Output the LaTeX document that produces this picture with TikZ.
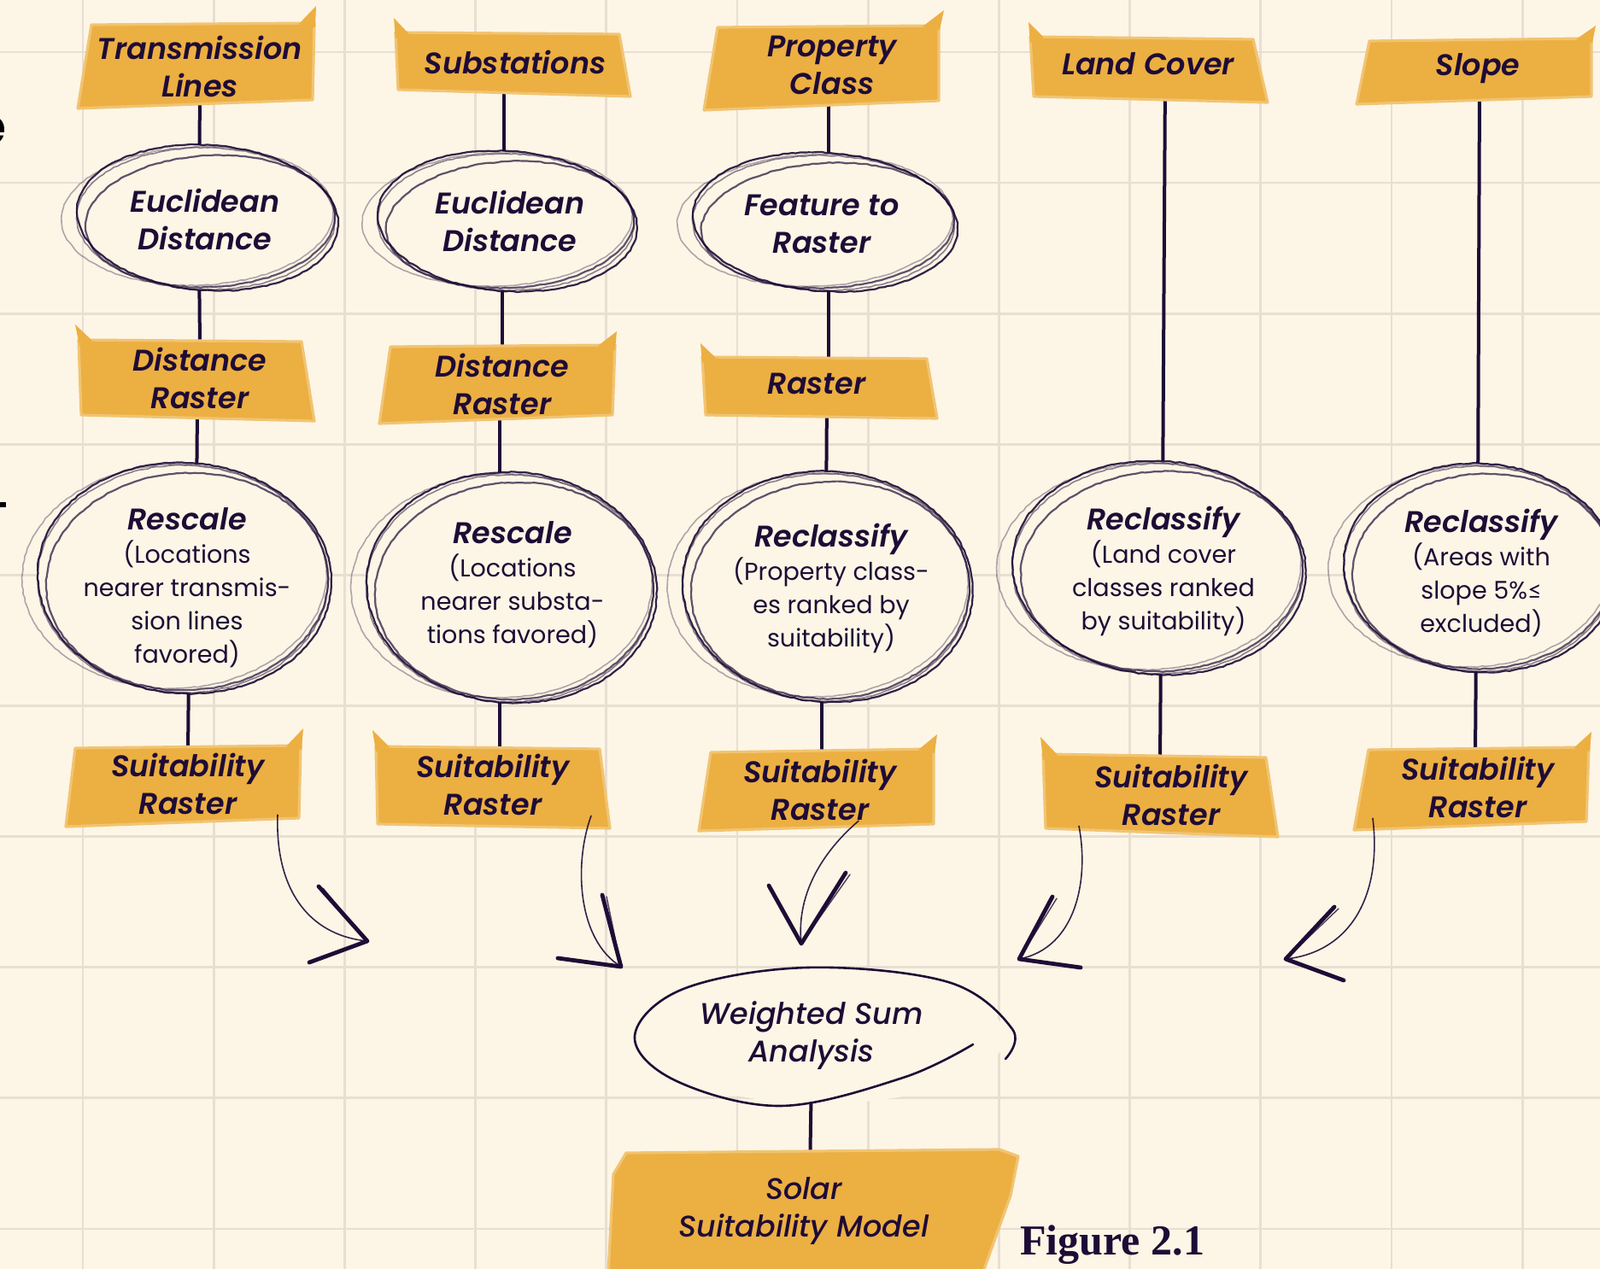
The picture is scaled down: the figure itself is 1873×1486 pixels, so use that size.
\documentclass[tikz,border=0pt]{standalone}
\usepackage{fontspec}
\usetikzlibrary{decorations.pathmorphing}
\newfontfamily\pop{Poppins}[BoldFont={* SemiBold}, BoldItalicFont={* SemiBold Italic}]
\newfontfamily\popmed{Poppins}[UprightFont={* Medium}, ItalicFont={* Medium Italic}]
\newfontfamily\lato{Lato}
\newfontfamily\serifbold{Liberation Serif}
\definecolor{bgcol}{RGB}{253,246,230}
\definecolor{gridcol}{RGB}{232,222,211}
\definecolor{tagcol}{RGB}{236,175,66}
\definecolor{ink}{RGB}{30,12,54}
\pgfdeclarelayer{gridlayer}
\pgfdeclarelayer{connlayer}
\pgfdeclarelayer{shapelayer}
\pgfsetlayers{gridlayer,connlayer,shapelayer,main}
\tikzset{
  tagtext/.style={font=\pop\bfseries\itshape\fontsize{17.5}{22}\selectfont, text=ink, align=center, inner sep=0pt},
  wstext/.style={font=\popmed\itshape\fontsize{17.5}{22}\selectfont, text=ink, align=center, inner sep=0pt},
  proctext/.style={font=\pop\fontsize{14.3}{19.5}\selectfont, text=ink, align=center, inner sep=0pt},
  conn/.style={draw=ink, line width=2pt},
  tagfill/.style={fill=tagcol, draw=tagcol!70!bgcol, line width=1.6pt, line join=round},
  sk/.style={draw=ink, line width=1.1pt, decorate, decoration={random steps, segment length=2.5pt, amplitude=0.3pt}},
  wsline/.style={draw=ink, line width=1.3pt, line cap=round},
  arrowline/.style={draw=ink, line width=0.8pt, line cap=round, opacity=.9},
  headline/.style={draw=ink, line width=2.4pt, line cap=round, line join=round},
  headthin/.style={draw=ink, line width=0.7pt, line cap=round, opacity=.8},
  gridline/.style={draw=gridcol, line width=1.4pt},
  figtext/.style={font=\serifbold\bfseries\fontsize{25}{25}\selectfont, text=ink, inner sep=0pt},
}
\newcommand{\ttl}[1]{{\bfseries\itshape\fontsize{17.5}{19.5}\selectfont #1}}
\newcommand{\sketchell}[4]{%
  \fill[bgcol] (#1,#2) ellipse [x radius=#3, y radius=#4];
  \draw[sk, opacity=.9] (#1,#2) ellipse [x radius=#3, y radius=#4, rotate=-4];
  \draw[sk, opacity=.7] ({#1+3},{#2+4}) ellipse [x radius={#3-7}, y radius={#4-8}, rotate=3];
  \draw[sk, opacity=.5, line width=.8pt] ({#1-2},{#2+1}) ellipse [x radius={#3-2}, y radius={#4-2}, rotate=-1];
  \draw[sk, opacity=.35, line width=.8pt] ({#1-12},{#2-2}) ellipse [x radius={#3+6}, y radius={#4-4}, rotate=2];
}
\newcommand{\ahead}[5]{%
  \draw[headline] (#2,#3) -- (#1) -- (#4,#5);
  \draw[headthin] ({#2+5},{#3+2}) -- (#1);
}
\begin{document}
\begin{tikzpicture}[x=0.5pt, y=-0.5pt]
\useasboundingbox (0,0) rectangle (1873,1486);

% ---------- paper and grid ----------
\begin{pgfonlayer}{gridlayer}
\fill[bgcol] (0,0) rectangle (1873,1486);
\foreach \i in {0,...,11} \draw[gridline] ({97+153.2*\i},0) -- ({97+153.2*\i},1486);
\foreach \j in {0,...,9} \draw[gridline] (0,{61+153.1*\j}) -- (1873,{61+153.1*\j});
\end{pgfonlayer}

% ---------- text nodes ----------
\node[tagtext] (b1) at (234,78) {Transmission\\Lines};
\node[tagtext] (e1) at (240,257) {Euclidean\\Distance};
\node[tagtext] (d1) at (234,443) {Distance\\Raster};
\node[proctext] (r1) at (219,688) {\ttl{Rescale}\\(Locations\\nearer transmis-\\sion lines\\favored)};
\node[tagtext] (s1) at (220,918) {Suitability\\Raster};

\node[tagtext] (b2) at (603,73) {Substations};
\node[tagtext] (e2) at (597,259) {Euclidean\\Distance};
\node[tagtext] (d2) at (588,450) {Distance\\Raster};
\node[proctext] (r2) at (600,685) {\ttl{Rescale}\\(Locations\\nearer substa-\\tions favored)};
\node[tagtext] (s2) at (577,919) {Suitability\\Raster};

\node[tagtext] (b3) at (974,76) {Property\\Class};
\node[tagtext] (e3) at (962,262) {Feature to\\Raster};
\node[tagtext] (ra3) at (956,449) {Raster};
\node[proctext] (r3) at (973,689) {\ttl{Reclassify}\\(Property class-\\es ranked by\\suitability)};
\node[tagtext] (s3) at (960,925) {Suitability\\Raster};

\node[tagtext] (b4) at (1344,75) {Land Cover};
\node[proctext] (r4) at (1362,669) {\ttl{Reclassify}\\(Land cover\\classes ranked\\by suitability)};
\node[tagtext] (s4) at (1371,931) {Suitability\\Raster};

\node[tagtext] (b5) at (1730,80) {Slope};
\node[proctext] (r5) at (1734,671) {\ttl{Reclassify}\\(Areas with\\slope 5\%{\lato ≤}\\excluded)};
\node[tagtext] (s5) at (1730,922) {Suitability\\Raster};

\node[wstext] (ws) at (950,1213) {Weighted Sum\\Analysis};
\node[wstext] (sol) at (941,1418) {Solar\\Suitability Model};

\node[figtext, anchor=base west] (fig) at (1194,1469) {Figure 2.1};
\node[font=\pop\bfseries\fontsize{30}{30}\selectfont, text=black, anchor=base east, inner sep=0pt] (frag) at (8,170) {e};

% ---------- connectors ----------
\begin{pgfonlayer}{connlayer}
\draw[conn] (b1.south) -- ([xshift=-3.5pt]e1.north);
\draw[conn] ([xshift=-3.5pt]e1.south) -- (d1.north);
\draw[conn] ([xshift=-1.5pt]d1.south) -- ([xshift=5.5pt]r1.north);
\draw[conn] ([xshift=1pt]r1.south) -- (s1.north);

\draw[conn] ([xshift=-6.5pt]b2.south) -- ([xshift=-3.5pt]e2.north);
\draw[conn] ([xshift=-4.5pt]e2.south) -- (d2.north);
\draw[conn] ([xshift=-1.5pt]d2.south) -- ([xshift=-7.5pt]r2.north);
\draw[conn] ([xshift=-7.5pt]r2.south) -- ([xshift=4pt]s2.north);

\draw[conn] ([xshift=-2pt]b3.south) -- ([xshift=4pt]e3.north);
\draw[conn] ([xshift=4pt]e3.south) -- ([xshift=7pt]ra3.north);
\draw[conn] ([xshift=6pt]ra3.south) -- ([xshift=-3pt]r3.north);
\draw[conn] ([xshift=-5.5pt]r3.south) -- ([xshift=1pt]s3.north);

\draw[conn] ([xshift=10pt]b4.south) -- ([xshift=-0.5pt]r4.north);
\draw[conn] ([xshift=-1.5pt]r4.south) -- ([xshift=-6.5pt]s4.north);

\draw[conn] ([xshift=1pt]b5.south) -- ([xshift=-2pt]r5.north);
\draw[conn] ([xshift=-3pt]r5.south) -- ([xshift=-1.5pt]s5.north);

\draw[conn] (ws.south) -- ([xshift=3.5pt]sol.north);
\end{pgfonlayer}

% ---------- shapes ----------
\begin{pgfonlayer}{shapelayer}
% tags
\filldraw[tagfill] (107,29) -- (368,27) -- (366,117) -- (91,127) -- cycle;
\fill[tagcol] (350,28) -- (370,7) -- (369,32) -- cycle;
\filldraw[tagfill] (463,38) -- (725,40) -- (738,113) -- (466,105) -- cycle;
\fill[tagcol] (461,21) -- (478,39) -- (463,45) -- cycle;
\filldraw[tagfill] (840,32) -- (1099,30) -- (1099,118) -- (824,129) -- cycle;
\fill[tagcol] (1080,31) -- (1105,12) -- (1100,35) -- cycle;
\filldraw[tagfill] (1206,43) -- (1467,46) -- (1484,120) -- (1210,113) -- cycle;
\fill[tagcol] (1204,26) -- (1222,44) -- (1206,50) -- cycle;
\filldraw[tagfill] (1603,48) -- (1863,45) -- (1863,113) -- (1588,122) -- cycle;
\fill[tagcol] (1845,46) -- (1868,30) -- (1864,50) -- cycle;

\filldraw[tagfill] (92,398) -- (353,400) -- (368,493) -- (95,486) -- cycle;
\fill[tagcol] (88,380) -- (108,399) -- (93,405) -- cycle;
\filldraw[tagfill] (457,406) -- (720,404) -- (717,486) -- (444,496) -- cycle;
\fill[tagcol] (700,405) -- (722,388) -- (720,410) -- cycle;
\filldraw[tagfill] (822,418) -- (1085,420) -- (1097,490) -- (826,486) -- cycle;
\fill[tagcol] (820,402) -- (838,419) -- (822,425) -- cycle;

\filldraw[tagfill] (88,876) -- (352,873) -- (350,958) -- (77,968) -- cycle;
\fill[tagcol] (335,874) -- (355,853) -- (353,878) -- cycle;
\filldraw[tagfill] (440,874) -- (702,877) -- (714,970) -- (442,965) -- cycle;
\fill[tagcol] (436,855) -- (456,875) -- (440,880) -- cycle;
\filldraw[tagfill] (832,881) -- (1093,877) -- (1093,965) -- (818,973) -- cycle;
\fill[tagcol] (1075,878) -- (1097,860) -- (1094,882) -- cycle;
\filldraw[tagfill] (1221,883) -- (1482,887) -- (1496,980) -- (1224,970) -- cycle;
\fill[tagcol] (1218,863) -- (1238,884) -- (1221,890) -- cycle;
\filldraw[tagfill] (1602,878) -- (1860,875) -- (1857,962) -- (1585,972) -- cycle;
\fill[tagcol] (1842,876) -- (1863,857) -- (1861,880) -- cycle;

\filldraw[tagfill] (733,1350) -- (1170,1346) -- (1192,1354) -- (1183,1400) -- (1165,1450) -- (1150,1492) -- (712,1492) -- (718,1375) -- cycle;

% sketched process ellipses
\sketchell{243}{255}{153}{85}
\sketchell{594}{259}{152}{82}
\sketchell{966}{260}{155}{81}
\sketchell{216}{677}{172}{135}
\sketchell{599}{688}{170}{135}
\sketchell{969}{687}{170}{135}
\sketchell{1357}{665}{172}{125}
\sketchell{1733}{665}{160}{122}

% weighted sum loop
\fill[bgcol] (962,1214) ellipse [x radius=214, y radius=78];
\draw[wsline] plot[smooth, tension=.6] coordinates {(1139,1223) (1057,1262) (914,1295) (790,1265) (743,1213) (800,1158) (945,1133) (1110,1150) (1185,1205) (1177,1240)};

% left-edge fragment
\fill[black] (0,588) rectangle (7,594);
\end{pgfonlayer}

% ---------- arrows to weighted sum ----------
\coordinate (t1) at (430,1102);
\coordinate (t2) at (727,1132);
\coordinate (t3) at (938,1105);
\coordinate (t4) at (1193,1123);
\coordinate (t5) at (1505,1123);
\draw[arrowline] ([xshift=52.5pt]s1.south) .. controls (322,1040) and (360,1095) .. (t1);
\ahead{t1}{373}{1038}{362}{1127}
\draw[arrowline] ([xshift=57.5pt]s2.south) .. controls (672,1010) and (675,1100) .. (t2);
\ahead{t2}{705}{1048}{653}{1122}
\draw[arrowline] ([xshift=22.5pt]s3.south) .. controls (960,1000) and (932,1050) .. (t3);
\ahead{t3}{990}{1022}{900}{1037}
\draw[arrowline] ([xshift=-54pt]s4.south) .. controls (1275,1030) and (1260,1110) .. (t4);
\ahead{t4}{1232}{1050}{1265}{1133}
\draw[arrowline] ([xshift=-61.5pt]s5.south) .. controls (1618,1050) and (1580,1115) .. (t5);
\ahead{t5}{1562}{1062}{1573}{1148}
\end{tikzpicture}
\end{document}
